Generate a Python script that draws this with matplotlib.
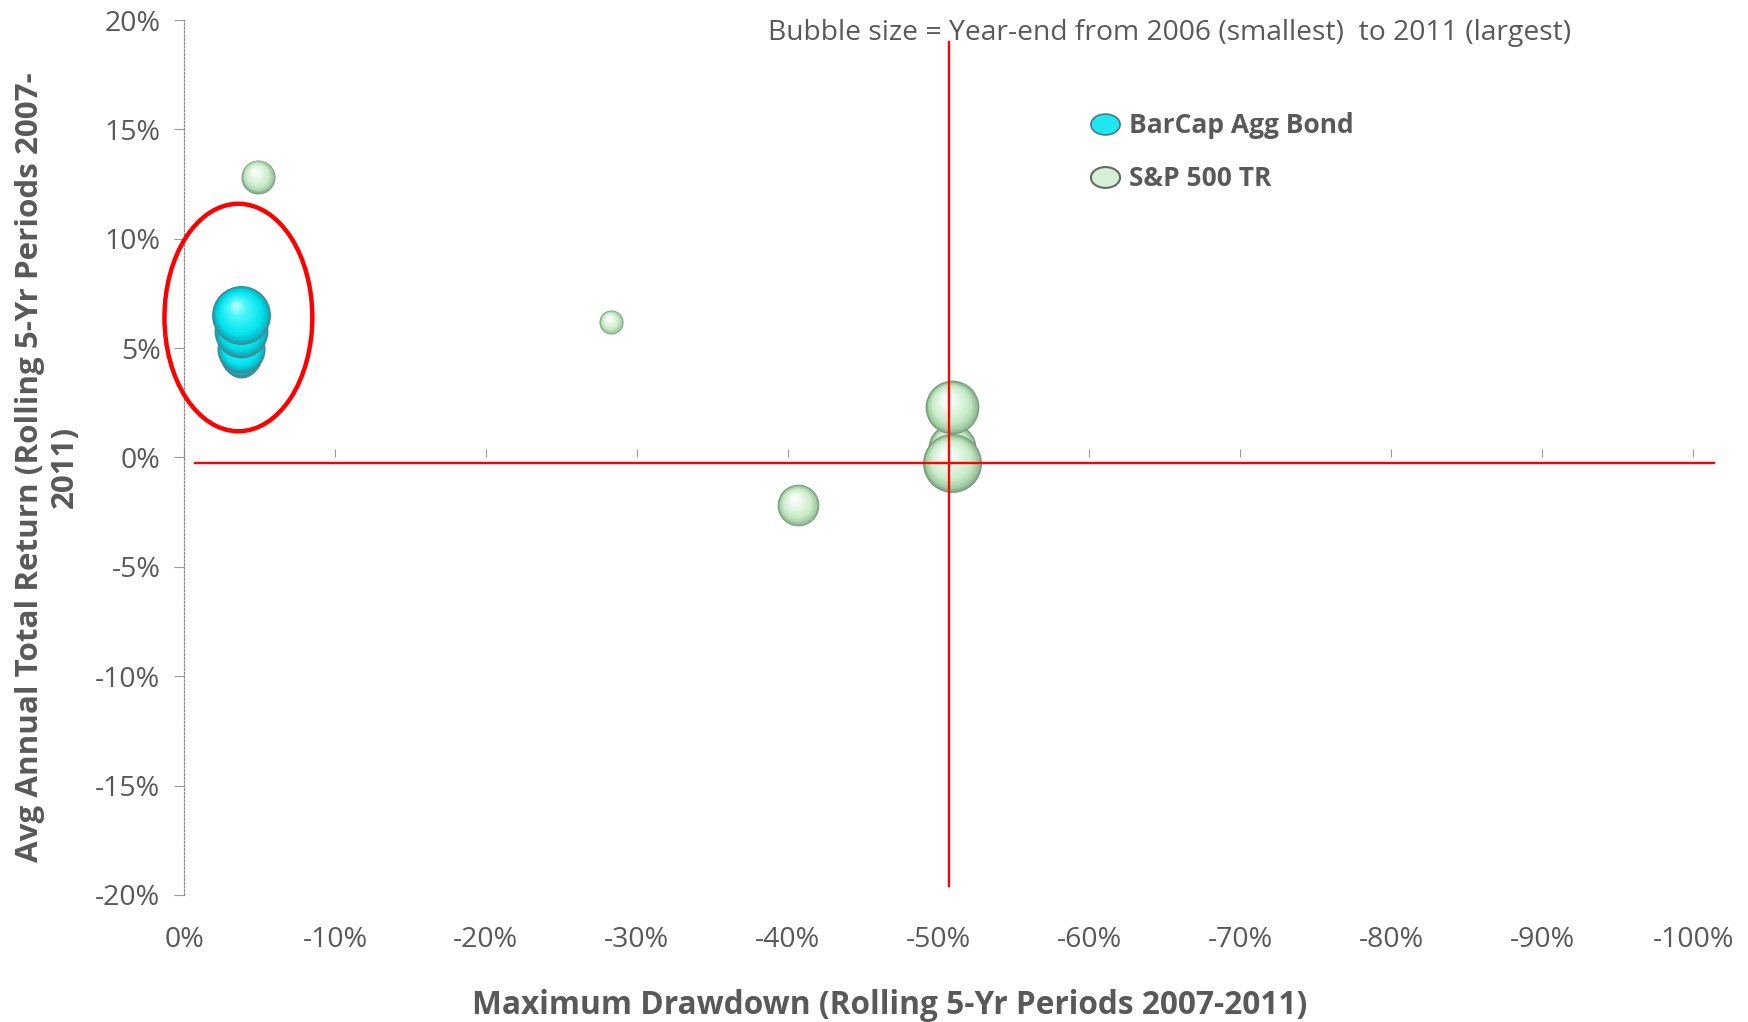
import numpy as np
import matplotlib
matplotlib.use("Agg")
import matplotlib.pyplot as plt
from matplotlib.patches import Ellipse
from matplotlib.lines import Line2D
from matplotlib.path import Path
from matplotlib.transforms import offset_copy, Affine2D
from matplotlib.colors import to_rgb

# ---- data (percent) ----
years = [2006, 2007, 2008, 2009, 2010, 2011]
bubble_size = [1, 2, 3, 4, 5, 6]

bond_drawdown = [-3.7, -3.8, -3.8, -3.8, -3.8, -3.8]
bond_return = [5.06, 4.42, 4.65, 4.97, 5.80, 6.50]

sp_drawdown = [-28.3, -4.9, -40.7, -50.9, -50.9, -50.9]
sp_return = [6.19, 12.83, -2.19, 0.42, 2.29, -0.25]

x_ticks = [0, -10, -20, -30, -40, -50, -60, -70, -80, -90, -100]
y_ticks = [20, 15, 10, 5, 0, -5, -10, -15, -20]

# reference cross-hair and highlight ring
ref_drawdown = -50.7
ref_return = -0.25
ring_center = (-3.6, 6.4)
ring_size = (9.8, 10.4)

GRAY = "#595959"
plt.rcParams["font.family"] = ["Open Sans", "DejaVu Sans"]

fig = plt.figure(figsize=(17.48, 10.22), dpi=100)
ax = fig.add_axes([0.1053, 0.1243, 0.8633, 0.8561])
ax.set_xlim(0, -100)
ax.set_ylim(-20, 20)

UNIT_S = 300.0  # marker area (pt^2) per bubble-size unit


def lerp(c1, c2, t):
    a, b = np.array(to_rgb(c1)), np.array(to_rgb(c2))
    return tuple(a + (b - a) * t)


def shade(stops, t):
    # stops: list of (position, colour) with position 0 = centre, 1 = rim
    for (p0, c0), (p1, c1) in zip(stops[:-1], stops[1:]):
        if p0 <= t <= p1:
            return lerp(c0, c1, (t - p0) / (p1 - p0) if p1 > p0 else 0)
    return to_rgb(stops[-1][1])


def sphere(x, y, size, stops, z, layers=24):
    s = UNIT_S * size
    r = np.sqrt(s) / 2.0
    for k in range(layers):
        t = 1.0 - k / layers
        dx = -(1 - t) * r * 0.22
        dy = (1 - t) * r * 0.38
        tr = offset_copy(ax.transData, fig=fig, x=dx, y=dy, units="points")
        ax.scatter([x], [y], s=s * t * t, color=[shade(stops, t)],
                   transform=tr, zorder=z, linewidths=0)


bond_stops = [(0.0, "#d0ffff"), (0.3, "#50f6fb"), (0.75, "#00e4ee"),
              (0.9, "#06bfcc"), (1.0, "#3a8c96")]
sp_stops = [(0.0, "#ffffff"), (0.3, "#eefaee"), (0.7, "#c8ecc8"),
            (0.9, "#a2cca4"), (1.0, "#789a7c")]

for i in range(len(years)):
    sphere(sp_drawdown[i], sp_return[i], bubble_size[i], sp_stops, 3 + i * 0.01)
for i in range(len(years)):
    sphere(bond_drawdown[i], bond_return[i], bubble_size[i], bond_stops, 4 + i * 0.01)

# red reference lines
ax.plot([ref_drawdown, ref_drawdown], [19.0, -19.6], color="red", lw=1.7,
        zorder=6, clip_on=False)
ax.plot([-0.7, -101.4], [ref_return, ref_return], color="red", lw=1.7,
        zorder=6, clip_on=False)
ax.add_patch(Ellipse(ring_center, ring_size[0], ring_size[1], fill=False,
                     edgecolor="red", lw=3.2, zorder=7, clip_on=False))

# axes styling
for side in ["top", "right", "bottom"]:
    ax.spines[side].set_visible(False)
ax.spines["left"].set_linestyle((0, (1.5, 1.5)))
ax.spines["left"].set_color("#8c8c8c")
ax.spines["left"].set_linewidth(0.9)

ax.set_xticks(x_ticks)
ax.set_xticklabels([f"{v}%" for v in x_ticks])
ax.set_yticks(y_ticks)
ax.set_yticklabels([f"{v}%" for v in y_ticks])
ax.tick_params(axis="x", length=0, pad=22, labelsize=20.5, labelcolor=GRAY)
ax.tick_params(axis="y", length=7, width=0.8, color="#9a9a9a", pad=10,
               labelsize=20.5, labelcolor=GRAY)

# horizontal axis line crossing at zero return
sec = ax.secondary_xaxis(0.5)
sec.set_xticks(x_ticks)
sec.tick_params(axis="x", labelbottom=False, labeltop=False, length=6, width=0.8,
                color="#9a9a9a", direction="out")
sec.spines["bottom"].set_linestyle((0, (1.5, 1.5)))
sec.spines["bottom"].set_color("#8c8c8c")
sec.spines["bottom"].set_linewidth(0.9)
sec.spines["top"].set_visible(False)

fig.text(0.509, 0.016, "Maximum Drawdown (Rolling 5-Yr Periods 2007-2011)",
         ha="center", va="center", fontsize=22.8, fontweight="bold", color=GRAY)
fig.text(0.027, 0.543, "Avg Annual Total Return (Rolling 5-Yr Periods 2007-\n2011)",
         ha="center", va="center", rotation=90, multialignment="center",
         fontsize=22.6, fontweight="bold", color=GRAY, linespacing=1.2)

fig.text(0.669, 0.968, "Bubble size = Year-end from 2006 (smallest)  to 2011 (largest)",
         ha="center", va="center", fontsize=20.3, color=GRAY)

# legend with oval markers
oval = Path.unit_circle().transformed(Affine2D().scale(1.4, 1.0))
handles = [
    Line2D([], [], linestyle="none", marker=oval, markersize=21,
           markerfacecolor="#1fe6ef", markeredgecolor="#3a7f88", markeredgewidth=1.2),
    Line2D([], [], linestyle="none", marker=oval, markersize=21,
           markerfacecolor="#d6f0d6", markeredgecolor="#5d6f60", markeredgewidth=1.5),
]
leg = ax.legend(handles, ["BarCap Agg Bond", "S&P 500 TR"], loc="upper left",
                bbox_to_anchor=(0.585, 0.922), frameon=False, handlelength=1.1,
                handletextpad=0.35, labelspacing=1.0,
                prop={"size": 19, "weight": "bold"})
for txt in leg.get_texts():
    txt.set_color(GRAY)

fig.savefig("out.png", dpi=100)
